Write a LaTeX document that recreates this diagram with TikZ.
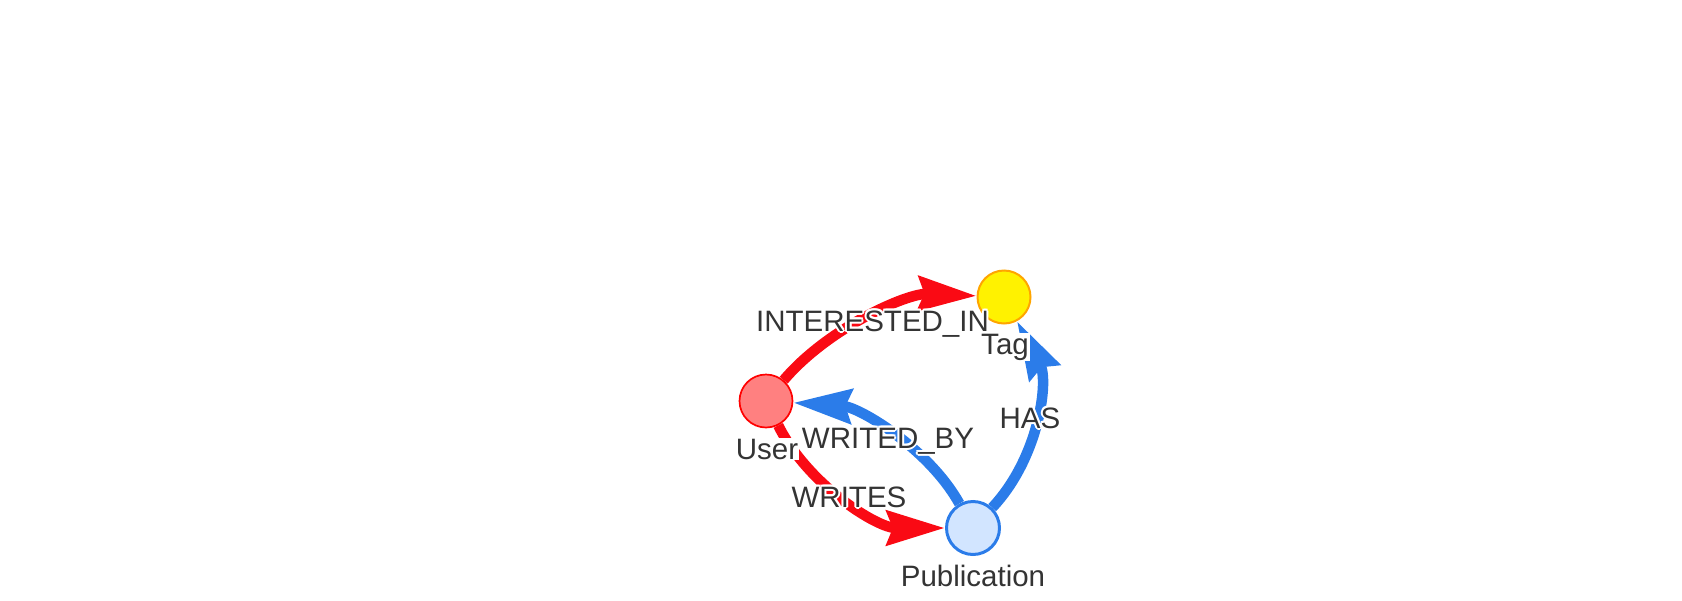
\documentclass[tikz,border=0pt]{standalone}
\usepackage{fontspec}
\setmainfont{Liberation Sans}
\usetikzlibrary{arrows.meta,backgrounds}

\definecolor{edgered}{RGB}{250,10,20}
\definecolor{edgeblue}{RGB}{43,124,233}
\definecolor{userfill}{RGB}{255,128,128}
\definecolor{pubfill}{RGB}{210,229,255}
\definecolor{tagborder}{RGB}{255,165,0}
\definecolor{labelgray}{RGB}{52,52,52}

% white halo round the relationship labels
\newcommand\halocopy[3]{\rlap{\hspace{#1}\raisebox{#2}{\color{white}#3}}}
\newcommand\halotext[1]{\leavevmode
  \halocopy{2pt}{0pt}{#1}\halocopy{-2pt}{0pt}{#1}%
  \halocopy{0pt}{2pt}{#1}\halocopy{0pt}{-2pt}{#1}%
  \halocopy{1.4pt}{1.4pt}{#1}\halocopy{-1.4pt}{1.4pt}{#1}%
  \halocopy{1.4pt}{-1.4pt}{#1}\halocopy{-1.4pt}{-1.4pt}{#1}%
  #1}

\begin{document}
\begin{tikzpicture}[x=1pt, y=-1pt,
  vertex/.style={circle, minimum size=53pt, inner sep=0pt, draw},
  rel/.style={line width=10.5pt, -{Stealth[length=58pt,width=34pt,inset=6pt]}},
  txt/.style={text=labelgray, font=\fontsize{29.5}{35}\selectfont, inner sep=1pt, anchor=base},
  vtxt/.style={txt, fill=white}
]
% Canvas
\useasboundingbox (0,0) rectangle (1682,600);

% Nodes
\node[vertex, fill=userfill, draw=red, line width=1.7pt] (user) at (766,401) {};
\node[vertex, fill=yellow, draw=tagborder, line width=2pt] (tag) at (1004,297) {};
\node[vertex, fill=pubfill, draw=edgeblue, line width=3pt] (pub) at (973,528) {};

% Relationships (behind the nodes)
\begin{scope}[on background layer]
\draw[rel, edgered] (user) .. controls (828,328) and (907,293) .. (tag);
\draw[rel, edgered] (user) .. controls (808,485) and (877,528) .. (pub);
\draw[rel, edgeblue] (pub) .. controls (929,449) and (860,407) .. (user);
\draw[rel, edgeblue] (pub) .. controls (1039,458) and (1049,381) .. (tag);
\end{scope}

% Relationship labels
\node[txt] (interested) at (872.5,331) {\halotext{INTERESTED\_IN}};
\node[txt] (writes) at (849,507) {\halotext{WRITES}};
\node[txt] (writedby) at (888,448) {\halotext{WRITED\_BY}};
\node[txt] (has) at (1030,428) {\halotext{HAS}};

% Node labels
\node[vtxt] (userlabel) at (767,459) {User};
\node[vtxt] (taglabel) at (1005,354) {Tag};
\node[vtxt] (publabel) at (973,586) {Publication};

\end{tikzpicture}
\end{document}
